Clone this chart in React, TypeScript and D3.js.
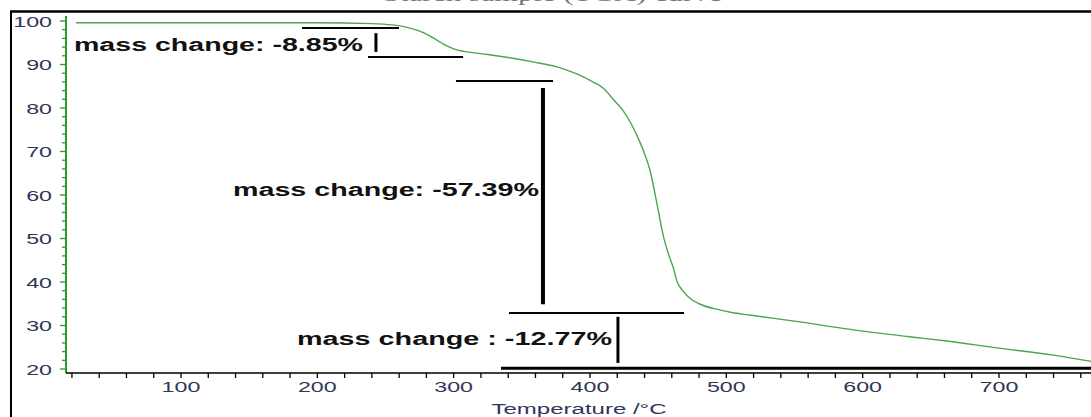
import * as d3 from "d3"

// TGA curve
const temperature = [23, 60, 100, 150, 200, 240, 255, 265, 273, 280, 285, 291, 297, 303, 312, 325, 340, 358, 375, 383, 392, 402, 410, 417, 424, 430, 435, 440, 444, 449, 454, 458, 461, 464, 468, 473, 480, 495, 504, 517, 550, 600, 643, 660, 700, 740, 767, 790]
const mass = [99.6, 99.6, 99.6, 99.6, 99.6, 99.4, 99.1, 98.6, 97.9, 97.0, 96.1, 95.0, 94.0, 93.3, 92.8, 92.3, 91.6, 90.6, 89.5, 88.7, 87.6, 86.0, 84.5, 82.0, 79.5, 76.5, 73.3, 69.5, 65.7, 58.2, 50.3, 46.0, 43.4, 40.0, 38.0, 36.3, 35.0, 33.6, 33.0, 32.4, 31.0, 28.7, 27.1, 26.5, 24.8, 23.2, 21.8, 21.0]

const xTickLabels = [100, 200, 300, 400, 500, 600, 700]
const yTickLabels = [20, 30, 40, 50, 60, 70, 80, 90, 100]

// step annotations, in data units
const stepLabels = ["mass change: -8.85%", "mass change: -57.39%", "mass change : -12.77%"]
const labelAnchors = [[21.5, 93.1], [138.1, 59.8], [185.1, 25.5]]
const hLines = [[188.8, 259.9, 98.4], [237.2, 306.9, 91.7], [301.7, 372.9, 86.2], [340.6, 469.0, 32.9], [334.7, 800, 20.2]]
const vLines = [[243.0, 97.2, 92.9], [365.5, 84.6, 34.9], [420.5, 32.0, 21.4]]

export default function App() {
    const x = d3.scaleLinear().domain([100, 700]).range([181, 999])
    const y = d3.scaleLinear().domain([20, 100]).range([369, 21])

    const line = d3.line<number>()
        .x((d, i) => x(temperature[i]))
        .y(d => y(d))
        .curve(d3.curveMonotoneX)

    const axisY = 373
    const axisX = 66
    const labelColor = "#2f3658"
    const green = "#2a9a2a"
    const font = "'Liberation Sans', Arial, sans-serif"
    const stretch = 1.55

    const xMinor = d3.range(20, 781, 20)
    const yMinor = d3.range(20, 101, 2)
    const labelWidths = [289, 306, 315]
    const hWidths = [2, 2, 2, 2, 3]
    const vWidths = [3, 4, 3]

    return (
        <svg width={1091} height={417} style={{ position: "absolute", left: 0, top: 0, background: "#fff" }}>
            {/* title, cut off at the top as in the source */}
            <text x={383} y={1} textLength={339} lengthAdjust="spacingAndGlyphs"
                fontFamily="'Liberation Serif', serif" fontSize={18} fill="#777">Starch sample (TGA) curve</text>

            {/* frame */}
            <line x1={10} x2={1091} y1={11.5} y2={11.5} stroke="#000" strokeWidth={2.5} />
            <line x1={11} x2={11} y1={11} y2={417} stroke="#000" strokeWidth={2} />

            {/* y axis */}
            <line x1={axisX} x2={axisX} y1={16} y2={axisY} stroke={green} strokeWidth={2} />
            {yMinor.map(v => (
                <line key={"ym" + v} x1={axisX - (v % 10 === 0 ? 6 : 4)} x2={axisX} y1={y(v)} y2={y(v)} stroke={green} strokeWidth={1.3} />
            ))}
            {yTickLabels.map(v => (
                <text key={"yl" + v} transform={`translate(52,${y(v) + 5.5}) scale(${stretch},1)`} textAnchor="end"
                    fontFamily={font} fontSize={15} fill={labelColor}>{v}</text>
            ))}

            {/* x axis */}
            <line x1={axisX} x2={1091} y1={axisY} y2={axisY} stroke="#000" strokeWidth={1.5} />
            {xMinor.filter(t => x(t) > axisX + 5).map(t => (
                <line key={"xm" + t} x1={x(t)} x2={x(t)} y1={axisY} y2={axisY + 5} stroke="#000" strokeWidth={1.3} />
            ))}
            {xTickLabels.map(t => (
                <text key={"xl" + t} transform={`translate(${x(t)},392) scale(${stretch},1)`} textAnchor="middle"
                    fontFamily={font} fontSize={15} fill={labelColor}>{t}</text>
            ))}
            <text transform={`translate(579,414) scale(${stretch},1)`} textAnchor="middle"
                fontFamily={font} fontSize={15.5} fill={labelColor}>Temperature /°C</text>

            {/* curve */}
            <path d={line(mass) ?? ""} fill="none" stroke="#4aa64a" strokeWidth={1.4} />

            {/* annotations */}
            {hLines.map(([t1, t2, v], i) => (
                <line key={"h" + i} x1={x(t1)} x2={x(t2)} y1={y(v)} y2={y(v)} stroke="#000" strokeWidth={hWidths[i]} />
            ))}
            {vLines.map(([t, v1, v2], i) => (
                <line key={"v" + i} x1={x(t)} x2={x(t)} y1={y(v1)} y2={y(v2)} stroke="#000" strokeWidth={vWidths[i]} />
            ))}
            {stepLabels.map((s, i) => (
                <text key={"s" + i} x={x(labelAnchors[i][0])} y={y(labelAnchors[i][1])}
                    textLength={labelWidths[i]} lengthAdjust="spacingAndGlyphs"
                    fontFamily={font} fontWeight="bold" fontSize={18} fill="#111">{s}</text>
            ))}
        </svg>
    )
}
